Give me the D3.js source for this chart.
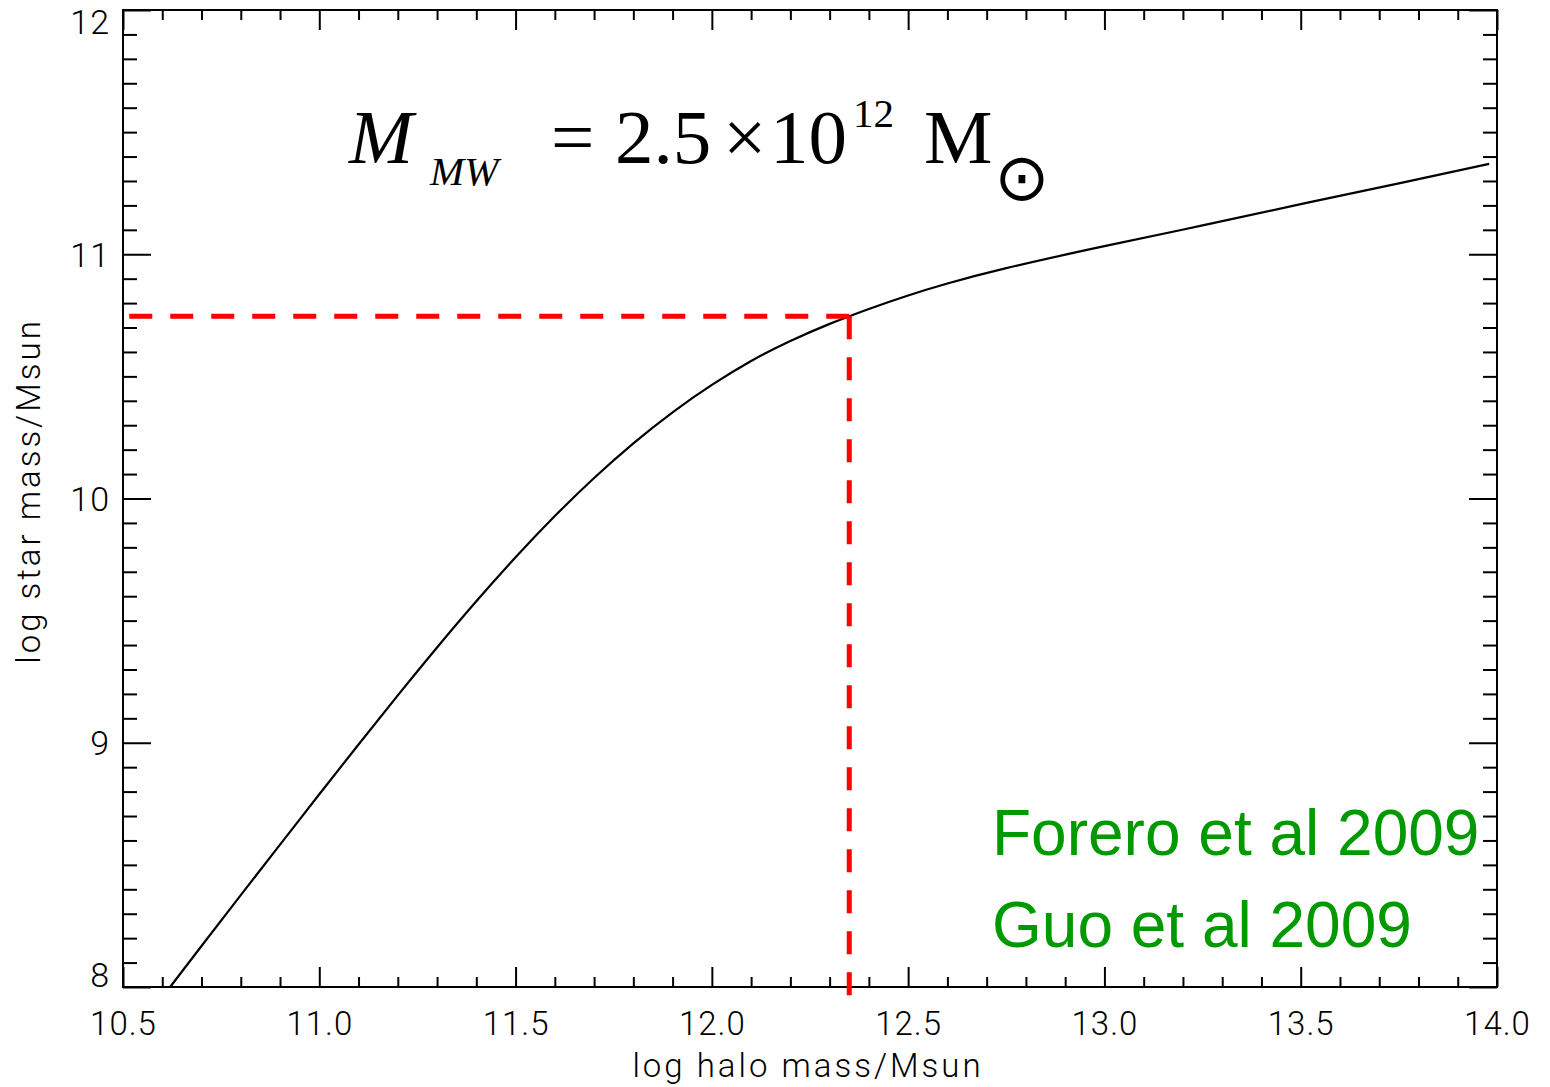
<!DOCTYPE html>
<html>
<head>
<meta charset="utf-8">
<script src="https://cdn.jsdelivr.net/npm/d3@7"></script>
<style>
  html, body { margin: 0; padding: 0; background: #fff; }
  svg { display: block; }
  .tick text { font-family: Roboto, "DejaVu Sans", sans-serif; font-weight: 300; fill: #000; letter-spacing: 1px; }
</style>
</head>
<body>
<svg id="chart" width="1550" height="1087"></svg>
<script>
// Stellar mass vs. halo mass relation (log10 values, solar units)
const haloMass = [10.62, 10.70, 10.80, 10.90, 11.00, 11.10, 11.20, 11.30, 11.40, 11.50,
                  11.60, 11.70, 11.80, 11.90, 12.00, 12.10, 12.20, 12.30, 12.35, 12.40,
                  12.50, 12.60, 12.75, 13.00, 13.25, 13.50, 13.75, 13.98];
const starMass = [8.00, 8.168, 8.376, 8.583, 8.789, 8.993, 9.194, 9.390, 9.579, 9.759,
                  9.928, 10.084, 10.226, 10.353, 10.465, 10.563, 10.645, 10.715, 10.746, 10.776,
                  10.831, 10.880, 10.943, 11.033, 11.118, 11.205, 11.29, 11.37];

// Milky Way halo mass marker (log M = log 2.5e12 ≈ 12.35)
const mwHalo = [12.35];
const mwStar = [10.746];

const xDomain = [10.5, 14.0];
const yDomain = [8, 12];
const xMajorTicks = [10.5, 11.0, 11.5, 12.0, 12.5, 13.0, 13.5, 14.0];
const xTickLabels = ["10.5", "11.0", "11.5", "12.0", "12.5", "13.0", "13.5", "14.0"];
const yMajorTicks = [8, 9, 10, 11, 12];
const yTickLabels = ["8", "9", "10", "11", "12"];
const refLines = ["Forero et al 2009", "Guo et al 2009"];

const width = 1550, height = 1087;
const margin = { left: 123, top: 10, right: 53, bottom: 100 };
const plotW = width - margin.left - margin.right;
const plotH = height - margin.top - margin.bottom;

const svg = d3.select("#chart");
const g = svg.append("g").attr("transform", `translate(${margin.left},${margin.top})`);

const x = d3.scaleLinear().domain(xDomain).range([0, plotW]);
const y = d3.scaleLinear().domain(yDomain).range([plotH, 0]);

const xMinor = d3.range(105, 141).map(v => v / 10).filter(v => !xMajorTicks.some(t => Math.abs(t - v) < 1e-6));
const yMinor = d3.range(80, 121).map(v => v / 10).filter(v => !yMajorTicks.some(t => Math.abs(t - v) < 1e-6));

const xMajLen = 20, xMinLen = 10, yMajLen = 28, yMinLen = 14;

function styleAxis(sel) {
  sel.select(".domain").remove();
  sel.selectAll(".tick line").attr("stroke", "#000").attr("stroke-width", 2);
}

// bottom axis with labels
g.append("g").attr("transform", `translate(0,${plotH})`)
  .call(d3.axisBottom(x).tickValues(xMajorTicks).tickSizeInner(-xMajLen).tickSizeOuter(0)
        .tickPadding(25).tickFormat((d, i) => xTickLabels[i]))
  .call(styleAxis)
  .selectAll("text").style("font-size", "33px");
g.append("g").attr("transform", `translate(0,${plotH})`)
  .call(d3.axisBottom(x).tickValues(xMinor).tickSizeInner(-xMinLen).tickSizeOuter(0).tickFormat(""))
  .call(styleAxis);
// top axis (ticks only)
g.append("g")
  .call(d3.axisTop(x).tickValues(xMajorTicks).tickSizeInner(-xMajLen).tickSizeOuter(0).tickFormat(""))
  .call(styleAxis);
g.append("g")
  .call(d3.axisTop(x).tickValues(xMinor).tickSizeInner(-xMinLen).tickSizeOuter(0).tickFormat(""))
  .call(styleAxis);

// left axis with labels; end labels kept inside the frame
const yAx = g.append("g")
  .call(d3.axisLeft(y).tickValues(yMajorTicks).tickSizeInner(-yMajLen).tickSizeOuter(0)
        .tickPadding(13).tickFormat((d, i) => yTickLabels[i]))
  .call(styleAxis);
yAx.selectAll("text").style("font-size", "34px")
  .attr("dy", d => d === yDomain[1] ? "0.7em" : (d === yDomain[0] ? "-0.02em" : "0.35em"));
g.append("g")
  .call(d3.axisLeft(y).tickValues(yMinor).tickSizeInner(-yMinLen).tickSizeOuter(0).tickFormat(""))
  .call(styleAxis);
// right axis (ticks only)
g.append("g").attr("transform", `translate(${plotW},0)`)
  .call(d3.axisRight(y).tickValues(yMajorTicks).tickSizeInner(-yMajLen).tickSizeOuter(0).tickFormat(""))
  .call(styleAxis);
g.append("g").attr("transform", `translate(${plotW},0)`)
  .call(d3.axisRight(y).tickValues(yMinor).tickSizeInner(-yMinLen).tickSizeOuter(0).tickFormat(""))
  .call(styleAxis);

// frame
g.append("rect").attr("x", 0).attr("y", 0).attr("width", plotW).attr("height", plotH)
  .attr("fill", "none").attr("stroke", "#000").attr("stroke-width", 2);

// relation curve
const line = d3.line().x((d, i) => x(haloMass[i])).y(d => y(d)).curve(d3.curveNatural);
g.append("path").datum(starMass).attr("d", line)
  .attr("fill", "none").attr("stroke", "#000").attr("stroke-width", 2.2);

// dashed guide lines through the Milky Way point
g.append("line")
  .attr("x1", x(mwHalo[0])).attr("y1", y(mwStar[0]))
  .attr("x2", x(xDomain[0])).attr("y2", y(mwStar[0]))
  .attr("stroke", "#ff0000").attr("stroke-width", 5).attr("stroke-dasharray", "23,18");
g.append("line")
  .attr("x1", x(mwHalo[0])).attr("y1", y(mwStar[0]))
  .attr("x2", x(mwHalo[0])).attr("y2", plotH + 9)
  .attr("stroke", "#ff0000").attr("stroke-width", 5).attr("stroke-dasharray", "23,18");

// axis titles
const titleFont = "Roboto, 'DejaVu Sans', sans-serif";
svg.append("text").attr("x", 808).attr("y", 1077)
  .attr("text-anchor", "middle")
  .style("font-family", titleFont).style("font-weight", 300)
  .style("font-size", "33px").style("letter-spacing", "3px").text("log halo mass/Msun");
svg.append("text").attr("transform", `translate(40,${491}) rotate(-90)`)
  .attr("text-anchor", "middle")
  .style("font-family", titleFont).style("font-weight", 300)
  .style("font-size", "33px").style("letter-spacing", "3px").text("log star mass/Msun");

// formula annotation
const serif = "'Liberation Serif', 'Times New Roman', serif";
const f = svg.append("g").style("font-family", serif).attr("fill", "#000");
f.append("text").attr("x", 349).attr("y", 163).style("font-style", "italic").style("font-size", "77px").text("M");
f.append("text").attr("x", 430).attr("y", 185).style("font-style", "italic").style("font-size", "41px").text("MW");
f.append("text").attr("x", 551).attr("y", 163).style("font-size", "77px").text("=");
f.append("text").attr("x", 615).attr("y", 163).style("font-size", "77px").text("2.5");
f.append("text").attr("x", 723).attr("y", 163).style("font-size", "77px").text("×");
f.append("text").attr("x", 770).attr("y", 163).style("font-size", "77px").text("10");
f.append("text").attr("x", 853).attr("y", 127).style("font-size", "41px").text("12");
f.append("text").attr("x", 924).attr("y", 163).style("font-size", "77px").text("M");
f.append("text").attr("x", 1022).attr("y", 177).attr("text-anchor", "middle")
  .attr("dominant-baseline", "central")
  .style("font-family", "'DejaVu Sans', sans-serif").style("font-size", "66px").text("⊙");

// reference labels
const refs = svg.append("g").style("font-family", "'Liberation Sans', Arial, sans-serif")
  .style("font-size", "64px").attr("fill", "#009900");
refs.selectAll("text").data(refLines).join("text")
  .attr("x", 992).attr("y", (d, i) => 855 + i * 92).text(d => d);
</script>
</body>
</html>
